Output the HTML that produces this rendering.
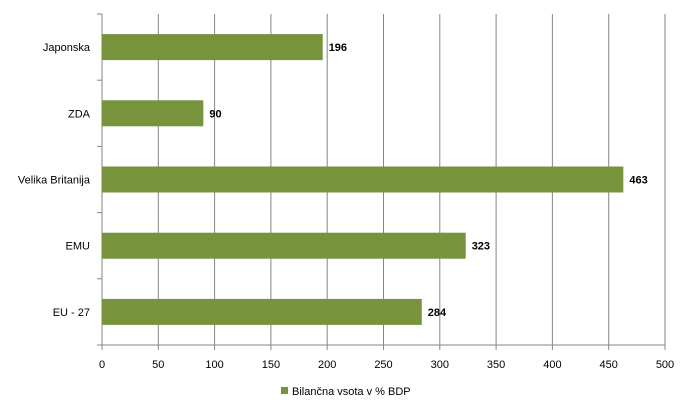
<!DOCTYPE html>
<html><head><meta charset="utf-8"><style>
body{margin:0;background:#fff;}
svg{display:block;font-family:"Liberation Sans",sans-serif;}
</style></head><body>
<svg id="chart" width="692" height="411"></svg>
<script>
const categories = ["Japonska","ZDA","Velika Britanija","EMU","EU - 27"];
const values = [196,90,463,323,284];
const ticks = [0,50,100,150,200,250,300,350,400,450,500];
const seriesName = "Bilančna vsota v % BDP";

const NS="http://www.w3.org/2000/svg";
const svgEl=document.getElementById('chart');
const x0=102, x1=665, plotTop=14, plotBottom=345;
const xs=v=>x0+(v/500)*(x1-x0);
const band=(plotBottom-plotTop)/categories.length;
function mk(t,a){const e=document.createElementNS(NS,t);for(const k in a)e.setAttribute(k,a[k]);svgEl.appendChild(e);return e;}

ticks.forEach(t=>{
  if(t>0){const g=mk('line',{x1:xs(t),x2:xs(t),y1:plotTop,y2:plotBottom,stroke:'#868686','stroke-width':1});
  
  }
  const tk=mk('line',{x1:xs(t),x2:xs(t),y1:plotBottom,y2:plotBottom+5,stroke:'#868686'});
  
  
  const l=mk('text',{x:xs(t),y:368,'font-size':11,'text-anchor':'middle',fill:'#000'});
  l.textContent=t;
  
  
});
for(let i=0;i<=categories.length;i++){
  const y=plotTop+i*band;
  const tk=mk('line',{x1:x0-5,x2:x0,y1:y,y2:y,stroke:'#868686'});
  
  
}
const ya=mk('line',{x1:x0,x2:x0,y1:plotTop,y2:plotBottom,stroke:'#868686'});


const xa=mk('line',{x1:x0-5,x2:x1,y1:plotBottom,y2:plotBottom,stroke:'#868686'});



categories.forEach((c,i)=>{
  const cy=plotTop+band*i+band/2;
  const h=26;
  const r=mk('rect',{x:x0,y:cy-h/2,width:xs(values[i])-x0,height:h,fill:'#77933c'});
  
  
  const v=mk('text',{x:xs(values[i])+6,y:cy+4,'font-size':11,'font-weight':'bold',fill:'#000'});
  v.textContent=values[i];
  
  
  const l=mk('text',{x:x0-12,y:cy+4,'font-size':11,'text-anchor':'end',fill:'#000'});
  l.textContent=c;
  
  
});
const lg=mk('rect',{x:281,y:387,width:7,height:7,fill:'#77933c'});


const lt=mk('text',{x:292,y:395,'font-size':11,fill:'#000'});
lt.textContent=seriesName;


</script>
</body></html>
